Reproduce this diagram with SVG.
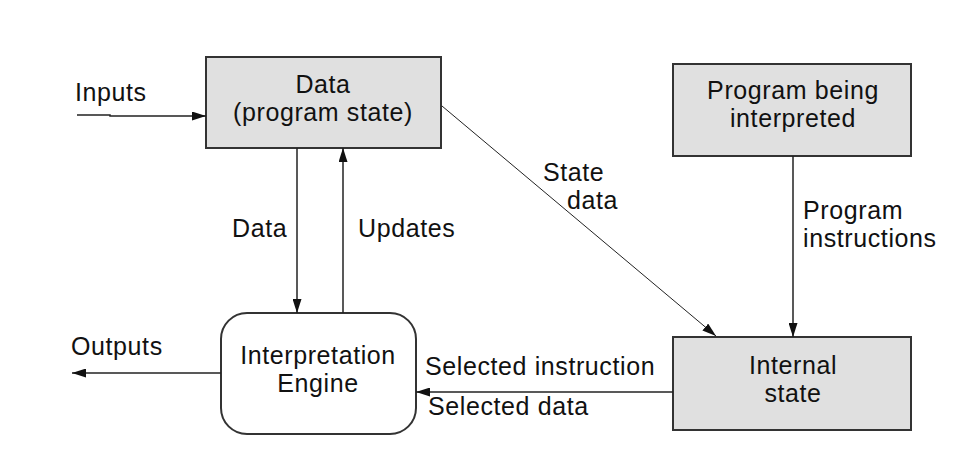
<svg xmlns="http://www.w3.org/2000/svg" width="954" height="469" viewBox="0 0 954 469">
<defs>
<marker id="ah" viewBox="0 0 14 9" refX="14" refY="4.5" markerWidth="14" markerHeight="9" markerUnits="userSpaceOnUse" orient="auto">
<path d="M0,0 L14,4.5 L0,9 Z" fill="#111"/>
</marker>
<style>
.box{fill:#e0e0e0;stroke:#333;stroke-width:2}
.eng{fill:#fff;stroke:#333;stroke-width:2}
text{font-family:"Liberation Sans",Arial,sans-serif;font-size:25px;letter-spacing:0.6px;fill:#111}
.c{text-anchor:middle}
.ln{stroke:#222;stroke-width:1.5;fill:none}
.thin{stroke:#222;stroke-width:1;fill:none}
</style>
</defs>
<rect width="954" height="469" fill="#fff"/>
<g id="data">
<rect class="box" x="206" y="57" width="235" height="91"/>
<text class="c" x="323" y="93">Data</text>
<text class="c" x="323" y="121">(program state)</text>
</g>
<g id="program">
<rect class="box" x="673" y="64" width="238" height="92"/>
<text class="c" x="793" y="99">Program being</text>
<text class="c" x="793" y="127">interpreted</text>
</g>
<g id="engine">
<rect class="eng" x="221" y="313" width="195" height="121" rx="26" ry="26"/>
<text class="c" x="318" y="364">Interpretation</text>
<text class="c" x="318" y="392">Engine</text>
</g>
<g id="internal">
<rect class="box" x="673" y="337" width="238" height="93"/>
<text class="c" x="793" y="374">Internal</text>
<text class="c" x="793" y="402">state</text>
</g>
<g id="connectors">
<path class="ln" d="M77,115 L110,115 L110,116 L206,116" marker-end="url(#ah)"/>
<path class="ln" d="M221,373 L72,373" marker-end="url(#ah)"/>
<path class="ln" d="M297,148 L297,313" marker-end="url(#ah)"/>
<path class="ln" d="M343,313 L343,148" marker-end="url(#ah)"/>
<path class="thin" d="M442,106 L716,336" marker-end="url(#ah)"/>
<path class="ln" d="M793,156 L793,337" marker-end="url(#ah)"/>
<path class="ln" d="M673,392 L416,392" marker-end="url(#ah)"/>
<text x="75" y="101">Inputs</text>
<text x="71" y="355">Outputs</text>
<text x="232" y="237">Data</text>
<text x="358" y="237">Updates</text>
<text x="543" y="181">State</text>
<text x="567" y="209">data</text>
<text x="803" y="219">Program</text>
<text x="803" y="247">instructions</text>
<text x="425" y="375">Selected instruction</text>
<text x="428" y="415">Selected data</text>
</g>
</svg>
